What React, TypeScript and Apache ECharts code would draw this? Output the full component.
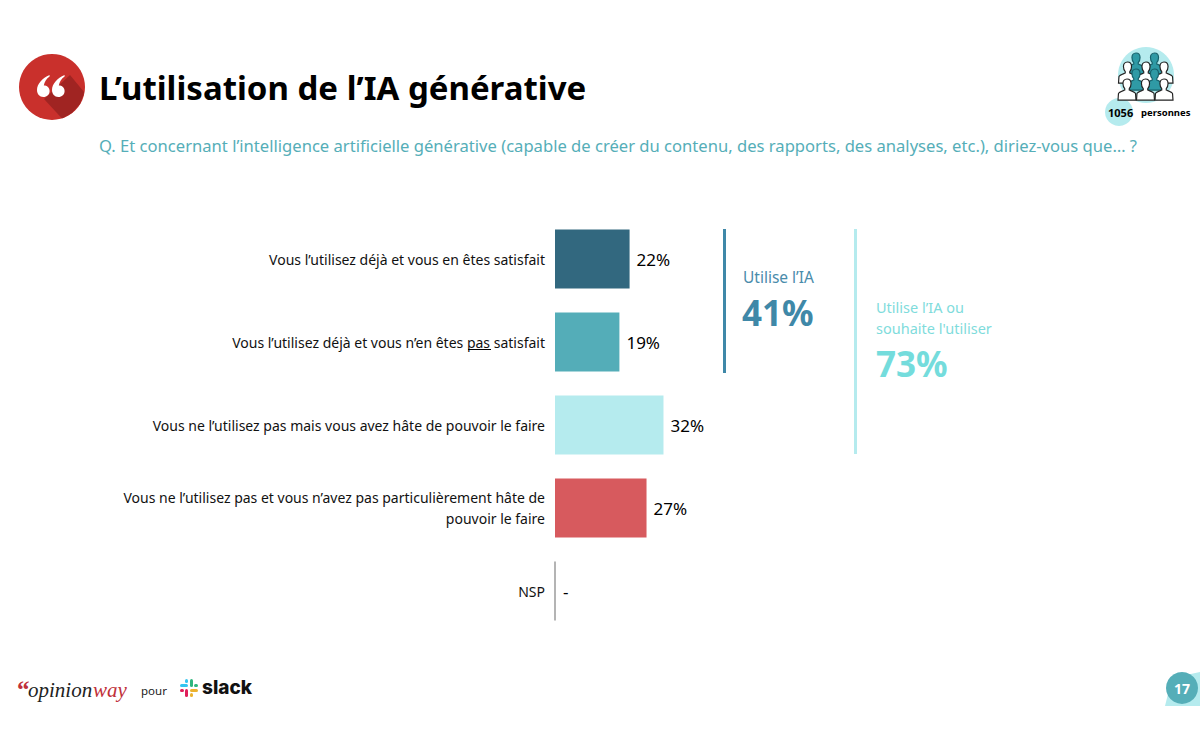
import React, { useEffect, useRef } from "react";
import * as echarts from "echarts";

const categories = [
  "Vous l’utilisez déjà et vous en êtes satisfait",
  "Vous l’utilisez déjà et vous n’en êtes pas satisfait",
  "Vous ne l’utilisez pas mais vous avez hâte de pouvoir le faire",
  "Vous ne l’utilisez pas et vous n’avez pas particulièrement hâte de\npouvoir le faire",
  "NSP",
];
const values = [22, 19, 32, 27, 0];
const barColors = ["#32687f", "#54adb8", "#b5ebee", "#d75a5e", "#b4b4b4"];
const titleText = "L’utilisation de l’IA générative";
const questionText =
  "Q. Et concernant l’intelligence artificielle générative (capable de créer du contenu, des rapports, des analyses, etc.), diriez-vous que… ?";
const usesLabel = "Utilise l’IA";
const usesValue = "41%";
const wishLabel = ["Utilise l’IA ou", "souhaite l'utiliser"];
const wishValue = "73%";
const respondents = "1056";
const respondentsUnit = "personnes";
const pageNumber = "17";

const FONT = "'Noto Sans', sans-serif";
const TEAL = "#55aeb8";
const PALE = "#b5ebee";

const quoteD =
  "M12 0 C5 3 0 9 0 15 C0 19 2.5 22 6 22 C9.5 22 12 19.5 12 16 C12 12.5 9.5 10.5 6.5 10.5 C7 7 9 3.5 12 1.5 Z";
const personD =
  "M10 0 C13 0 14.5 2.5 14.5 5 C14.5 7.5 13.5 9.5 12.5 10.5 L12.5 12 C15 13 19 14 19.5 16 L20 23 L0 23 L0.5 16 C1 14 5 13 7.5 12 L7.5 10.5 C6.5 9.5 5.5 7.5 5.5 5 C5.5 2.5 7 0 10 0 Z";

echarts.graphic.registerShape("ow-quote", echarts.graphic.extendPath(quoteD, {}) as any);
echarts.graphic.registerShape("ow-person", echarts.graphic.extendPath(personD, {}) as any);

function txt(text: string, x: number, y: number, fontSize: number, fill: string, fontWeight: any = 400, family = FONT) {
  return {
    type: "text",
    z: 10,
    style: { text, x, y, fontSize, fill, fontWeight, fontFamily: family, align: "left", verticalAlign: "middle" },
  };
}

function person(x: number, y: number, teal: boolean, z: number) {
  return {
    type: "ow-person",
    x,
    y,
    scaleX: 0.9,
    scaleY: 0.92,
    z,
    style: { fill: teal ? "#2f9aa5" : "#ffffff", stroke: teal ? "#17616b" : "#222222", lineWidth: 1.3 },
  };
}

function buildGraphics() {
  const people: any[] = [];
  [1127, 1145.5].forEach((x) => people.push(person(x, 53, true, 3)));
  [1118.5, 1137, 1155].forEach((x) => people.push(person(x, 62, false, 4)));
  [1127, 1145.5].forEach((x) => people.push(person(x, 69, true, 5)));
  [1118, 1136.5, 1155].forEach((x) => people.push(person(x, 79, false, 6)));

  return [
    { type: "circle", z: 1, shape: { cx: 52, cy: 87, r: 33 }, style: { fill: "#c9302c" } },
    {
      type: "polygon",
      z: 2,
      shape: { points: [[44, 99], [70, 75], [84, 92], [83.5, 95], [80, 104], [72, 113], [62, 118.5]] },
      style: { fill: "#a02422" },
    },
    { type: "ow-quote", z: 3, x: 37, y: 75, scaleX: 1.05, scaleY: 1, style: { fill: "#ffffff" } },
    { type: "ow-quote", z: 3, x: 52, y: 75, scaleX: 1.05, scaleY: 1, style: { fill: "#ffffff" } },
    txt(titleText, 99, 87, 33, "#000000", 700),
    txt(questionText, 99, 145, 16.6, TEAL),

    { type: "circle", z: 1, shape: { cx: 1146, cy: 75, r: 28 }, style: { fill: PALE } },
    { type: "circle", z: 1, shape: { cx: 1119, cy: 112, r: 14 }, style: { fill: PALE } },
    ...people,
    txt(respondents, 1108, 112, 11, "#000000", 700),
    txt(respondentsUnit, 1141, 112, 9.5, "#000000", 700),

    { type: "rect", z: 2, shape: { x: 723, y: 229, width: 3, height: 144 }, style: { fill: "#3f88a8" } },
    txt(usesLabel, 743, 277, 15.5, "#4a8cab"),
    txt(usesValue, 742, 312, 35, "#3f88a8", 700),
    { type: "rect", z: 2, shape: { x: 854, y: 229, width: 3, height: 225 }, style: { fill: PALE } },
    txt(wishLabel[0], 876, 307, 14.5, "#7fdcdc"),
    txt(wishLabel[1], 876, 328, 14.5, "#7fdcdc"),
    txt(wishValue, 876, 363, 35, "#74dcdc", 700),

    { type: "rect", z: 10, shape: { x: 468, y: 349, width: 23, height: 1 }, style: { fill: "#000000" } },

    txt("“", 17, 689, 25, "#c0313a", 700, "'Liberation Serif', serif"),
    { type: "text", z: 10, style: { text: "opinion", x: 28, y: 690, fontSize: 21, fontStyle: "italic", fill: "#222222", fontFamily: "'Liberation Serif', serif", verticalAlign: "middle" } },
    { type: "text", z: 10, style: { text: "way", x: 93, y: 690, fontSize: 21, fontStyle: "italic", fill: "#c0313a", fontFamily: "'Liberation Serif', serif", verticalAlign: "middle" } },
    txt("pour", 141, 690, 11.5, "#222222"),
    { type: "rect", z: 3, shape: { x: 180, y: 684, width: 8, height: 3, r: 1.5 }, style: { fill: "#36c5f0" } },
    { type: "rect", z: 3, shape: { x: 185, y: 679, width: 3, height: 4, r: 1.5 }, style: { fill: "#36c5f0" } },
    { type: "rect", z: 3, shape: { x: 190, y: 679, width: 3, height: 8, r: 1.5 }, style: { fill: "#2eb67d" } },
    { type: "rect", z: 3, shape: { x: 194, y: 684, width: 4, height: 3, r: 1.5 }, style: { fill: "#2eb67d" } },
    { type: "rect", z: 3, shape: { x: 190, y: 689, width: 8, height: 3, r: 1.5 }, style: { fill: "#ecb22e" } },
    { type: "rect", z: 3, shape: { x: 190, y: 693, width: 3, height: 4, r: 1.5 }, style: { fill: "#ecb22e" } },
    { type: "rect", z: 3, shape: { x: 185, y: 689, width: 3, height: 8, r: 1.5 }, style: { fill: "#e01e5a" } },
    { type: "rect", z: 3, shape: { x: 180, y: 689, width: 4, height: 3, r: 1.5 }, style: { fill: "#e01e5a" } },
    txt("slack", 202, 687, 19, "#111111", 800, "Inter, sans-serif"),

    { type: "polygon", z: 1, shape: { points: [[1165, 706], [1172, 678], [1200, 672], [1200, 706]] }, style: { fill: PALE } },
    { type: "circle", z: 2, shape: { cx: 1182, cy: 688, r: 16 }, style: { fill: TEAL } },
    { type: "text", z: 10, style: { text: pageNumber, x: 1182, y: 688, fontSize: 14, fontWeight: 700, fill: "#ffffff", fontFamily: FONT, align: "center", verticalAlign: "middle" } },
  ];
}

export default function App() {
  const ref = useRef<HTMLDivElement>(null);
  useEffect(() => {
    const chart = echarts.init(ref.current!, undefined, { renderer: "svg" });
    chart.setOption({
      animation: false,
      backgroundColor: "#ffffff",
      grid: { left: 555, top: 217.5, width: 339, height: 415, containLabel: false },
      xAxis: { type: "value", min: 0, max: 100, show: false },
      yAxis: {
        type: "category",
        inverse: true,
        data: categories,
        axisLine: { show: false },
        axisTick: { show: false },
        axisLabel: { margin: 10, fontSize: 14, lineHeight: 21, color: "#111111", fontFamily: FONT, align: "right" },
      },
      series: [
        {
          type: "bar",
          barWidth: 59,
          data: values.map((value, i) => ({
            value,
            itemStyle: value === 0 ? { color: barColors[i], borderColor: barColors[i], borderWidth: 2 } : { color: barColors[i] },
          })),
          label: {
            show: true,
            position: "right",
            distance: 7,
            fontSize: 17,
            color: "#000000",
            fontFamily: FONT,
            formatter: (p: any) => (p.value ? `${p.value}%` : "-"),
          },
        },
      ],
      graphic: { elements: buildGraphics() },
    });
    return () => chart.dispose();
  }, []);
  return <div ref={ref} style={{ position: "fixed", left: 0, top: 0, width: 1200, height: 734 }} />;
}
